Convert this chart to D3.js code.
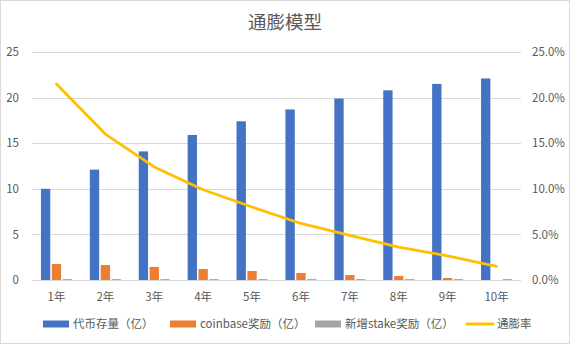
<!DOCTYPE html>
<html><head><meta charset="utf-8">
<script src="https://cdn.jsdelivr.net/npm/d3@7"></script>
<style>
body{margin:0;background:#fff;}
svg{display:block;font-family:"Noto Sans CJK SC","Noto Sans",sans-serif;}
</style></head>
<body>
<svg id="chart" width="570" height="344"></svg>
<script>
const categories = ["1年","2年","3年","4年","5年","6年","7年","8年","9年","10年"];
const seriesNames = ["代币存量（亿）","coinbase奖励（亿）","新增stake奖励（亿）"];
const lineName = "通膨率";
const supply = [10, 12.1, 14.1, 15.9, 17.4, 18.7, 19.9, 20.8, 21.5, 22.1];
const coinbase = [1.75, 1.64, 1.43, 1.2, 0.99, 0.77, 0.55, 0.44, 0.22, 0];
const stake = [0.1, 0.1, 0.1, 0.1, 0.1, 0.1, 0.1, 0.1, 0.1, 0.1];
const inflation = [0.215, 0.160, 0.124, 0.099, 0.080, 0.062, 0.049, 0.036, 0.0265, 0.015];
const leftTicks = [0, 5, 10, 15, 20, 25];
const rightTicks = [0, 0.05, 0.10, 0.15, 0.20, 0.25];
const colors = ["#4472C4", "#ED7D31", "#A5A5A5"];
const lineColor = "#FFC000";

const svg = d3.select("#chart");
const W = 570, H = 344;
const m = {left: 32, right: 49, top: 52, bottom: 64};
const x0 = d3.scaleBand().domain(categories).range([m.left, W - m.right]).paddingInner(0.366).paddingOuter(0.183);
const x1 = d3.scaleBand().domain(seriesNames).range([0, x0.bandwidth()]).paddingInner(0.14);
const yL = d3.scaleLinear().domain([0, 25]).range([H - m.bottom, m.top]);
const yR = d3.scaleLinear().domain([0, 0.25]).range([H - m.bottom, m.top]);

svg.append("rect").attr("x", 0.5).attr("y", 0.5).attr("width", W - 1).attr("height", H - 1)
  .attr("fill", "#fff").attr("stroke", "#D9D9D9");

svg.append("text").attr("x", 285).attr("y", 29).attr("text-anchor", "middle")
  .attr("font-size", 18.5).attr("fill", "#595959").text("通膨模型");

// gridlines
svg.append("g").selectAll("line").data(leftTicks).join("line")
  .attr("x1", m.left).attr("x2", W - m.right)
  .attr("y1", d => Math.round(yL(d)) + 0.5).attr("y2", d => Math.round(yL(d)) + 0.5)
  .attr("stroke", "#D9D9D9").attr("stroke-width", 1);

// left axis
const axL = d3.axisLeft(yL).tickValues(leftTicks).tickSize(0).tickPadding(0).tickFormat(d3.format("d"));
const gL = svg.append("g").attr("transform", `translate(19,0)`).call(axL);
gL.select(".domain").remove();
gL.selectAll("text").attr("font-size", 11.5).attr("fill", "#595959").attr("font-family", "'Noto Sans CJK SC',sans-serif");

// right axis
const axR = d3.axisRight(yR).tickValues(rightTicks).tickSize(0).tickPadding(0).tickFormat(d3.format(".1%"));
const gR = svg.append("g").attr("transform", `translate(532,0)`).call(axR);
gR.select(".domain").remove();
gR.selectAll("text").attr("font-size", 11.5).attr("fill", "#595959").attr("font-family", "'Noto Sans CJK SC',sans-serif");

// bars
const seriesData = [supply, coinbase, stake];
const gBars = svg.append("g");
seriesData.forEach((vals, si) => {
  gBars.append("g").selectAll("rect").data(vals).join("rect")
    .attr("x", (d, i) => x0(categories[i]) + x1(seriesNames[si]))
    .attr("width", x1.bandwidth())
    .attr("y", d => yL(d))
    .attr("height", d => yL(0) - yL(d))
    .attr("fill", colors[si]);
});

// x axis
const axX = d3.axisBottom(x0).tickSize(0).tickPadding(0);
const gX = svg.append("g").attr("transform", `translate(0,${H - m.bottom + 13})`).call(axX);
gX.select(".domain").remove();
gX.selectAll("text").attr("font-size", 11.5).attr("fill", "#595959").attr("dy", "0.71em").attr("font-family", "'Noto Sans CJK SC',sans-serif");
svg.append("line").attr("x1", m.left).attr("x2", W - m.right)
  .attr("y1", Math.round(yL(0)) + 0.5).attr("y2", Math.round(yL(0)) + 0.5)
  .attr("stroke", "#D9D9D9");

// line
const line = d3.line().x((d, i) => x0(categories[i]) + x0.bandwidth() / 2).y(d => yR(d));
svg.append("path").datum(inflation).attr("d", line).attr("fill", "none")
  .attr("stroke", lineColor).attr("stroke-width", 2.8).attr("stroke-linejoin", "round").attr("stroke-linecap", "round");

// legend
const ly = 324;
const legendItems = [
  {name: seriesNames[0], x: 43, type: "rect", color: colors[0]},
  {name: seriesNames[1], x: 170, type: "rect", color: colors[1]},
  {name: seriesNames[2], x: 315, type: "rect", color: colors[2]},
  {name: lineName, x: 467, type: "line", color: lineColor}
];
const lg = svg.append("g");
legendItems.forEach(it => {
  if (it.type === "rect") {
    lg.append("rect").attr("x", it.x).attr("y", ly - 3.5).attr("width", 26).attr("height", 7).attr("fill", it.color);
  } else {
    lg.append("line").attr("x1", it.x).attr("x2", it.x + 26).attr("y1", ly).attr("y2", ly)
      .attr("stroke", it.color).attr("stroke-width", 2.8).attr("stroke-linecap", "round");
  }
  lg.append("text").attr("x", it.x + 30).attr("y", ly).attr("dy", "0.35em")
    .attr("font-size", 11.5).attr("fill", "#595959").text(it.name);
});
</script>
</body></html>
